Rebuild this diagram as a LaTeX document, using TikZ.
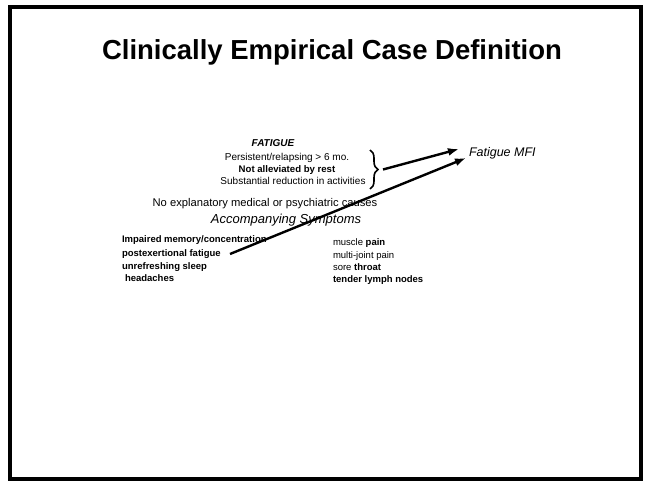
\documentclass[tikz,border=0pt]{standalone}
\usepackage{fontspec}
\setmainfont{Liberation Sans}
\usetikzlibrary{arrows.meta,decorations.pathreplacing}
\begin{document}
\begin{tikzpicture}[x=1pt,y=-1pt,
  txt/.style={inner sep=0pt,outer sep=0pt},
  fatline/.style={txt,anchor=base,font=\fontsize{10}{12}\selectfont},
  symline/.style={txt,anchor=base west,font=\fontsize{9.5}{11}\selectfont},
  bigarrow/.style={line width=2.4pt,-{Latex[length=11pt,width=8pt]}},
  frame/.style={line width=4pt,draw=black}
]
\useasboundingbox (0,0) rectangle (645,481);
\draw[frame] (10.3,7) rectangle (640.5,479);

\node[txt,anchor=base,font=\fontsize{27.5}{30}\selectfont\bfseries] (title) at (332,60) {Clinically Empirical Case Definition};

\node[txt,anchor=base,font=\fontsize{10}{12}\selectfont\bfseries\itshape] (fatigue) at (273,147) {FATIGUE};
\node[fatline] (f1) at (287,161) {Persistent/relapsing > 6 mo.};
\node[fatline,font=\fontsize{9.6}{12}\selectfont\bfseries] (f2) at (287,173) {Not alleviated by rest};
\node[fatline] (f3) at (293,185) {Substantial reduction in activities};

\draw[line width=1.6pt,decorate,decoration={brace,amplitude=8pt}] (370,150) -- (370,189);
\coordinate (a1s) at (383,169.5);
\coordinate (a1e) at (459,149);

\node[txt,anchor=base west,font=\fontsize{12.5}{14}\selectfont\itshape] (mfi) at (469,157) {Fatigue MFI};

\node[txt,anchor=base,font=\fontsize{11.2}{13}\selectfont] (noexp) at (265,207) {No explanatory medical or psychiatric causes};
\node[txt,anchor=base,font=\fontsize{13}{15}\selectfont\itshape] (acc) at (286,223) {Accompanying Symptoms};

\node[symline,font=\fontsize{9.5}{11}\selectfont\bfseries] (s1) at (122,243) {Impaired memory/concentration};
\node[symline,font=\fontsize{9.5}{11}\selectfont\bfseries] (s2) at (122,256) {postexertional fatigue};
\node[symline,font=\fontsize{9.5}{11}\selectfont\bfseries] (s3) at (122,269) {unrefreshing sleep};
\node[symline,font=\fontsize{9.5}{11}\selectfont\bfseries] (s4) at (125,281) {headaches};

\node[symline] (s5) at (333,245) {muscle \textbf{pain}};
\node[symline] (s6) at (333,258) {multi-joint pain};
\node[symline] (s7) at (333,270) {sore \textbf{throat}};
\node[symline,font=\fontsize{9.5}{11}\selectfont\bfseries] (s8) at (333,282) {tender lymph nodes};

\coordinate (a2s) at (230,254);
\coordinate (a2e) at (466,158);

\draw[bigarrow] (a1s) -- (a1e);
\draw[bigarrow] (a2s) -- (a2e);
\end{tikzpicture}
\end{document}
